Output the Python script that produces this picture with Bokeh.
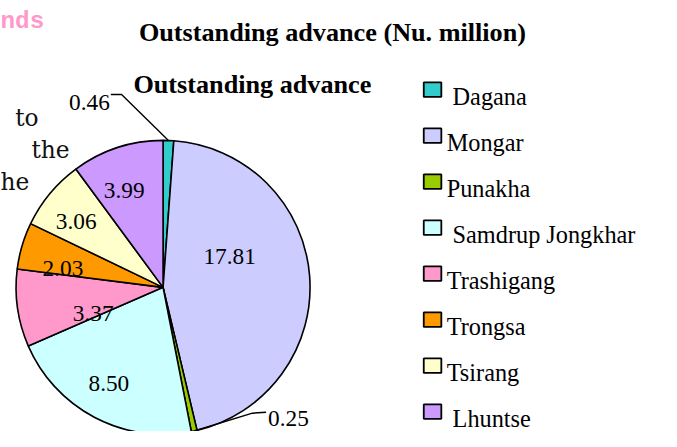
import math
from bokeh.plotting import figure
from bokeh.models import ColumnDataSource, Range1d
from bokeh.core.properties import value
from bokeh.embed import file_html
from bokeh.resources import INLINE

# ---------------- data ----------------
districts = ["Dagana", "Mongar", "Punakha", "Samdrup Jongkhar",
             "Trashigang", "Trongsa", "Tsirang", "Lhuntse"]
advance = [0.46, 17.81, 0.25, 8.50, 3.37, 2.03, 3.06, 3.99]
colors = ["#33CCCC", "#CCCCFF", "#99CC00", "#CCFFFF",
          "#FF99CC", "#FF9900", "#FFFFCC", "#CC99FF"]
title_main = "Outstanding advance (Nu. million)"
title_chart = "Outstanding advance"

# ---------------- layout ----------------
W, H = 661, 431
SX, SY = W / 677.0, H / 447.0
S = (SX + SY) / 2


def px(X):
    return X * SX


def py(Y):
    return H - Y * SY


def fs(n):
    return "%.1fpx" % (n * S)


CX, CY, R = px(166.5), py(297.5), 151.5 * S

# label anchors: (X, baseline Y, align) in reference pixels
label_layout = [
    (112.0, 105.5, "right"),   # Dagana (outside)
    (234.7, 265.0, "center"),  # Mongar
    (274.0, 434.0, "left"),    # Punakha (outside)
    (111.0, 396.7, "center"),  # Samdrup Jongkhar
    (95.0, 325.0, "center"),   # Trashigang
    (64.0, 278.0, "center"),   # Trongsa
    (77.5, 229.0, "center"),   # Tsirang
    (126.7, 196.7, "center"),  # Lhuntse
]
# leader elbows for outside labels
leaders = {0: [(113.0, 97.5), (124.0, 97.5)],
           2: [(272.0, 427.0), (258.0, 428.0)]}
legend_indent = [6, 0, 0, 6, 0, 0, 0, 6]

LABEL_FONT = value("Liberation Serif")

# ---------------- geometry ----------------
total = sum(advance)
starts, ends, mids = [], [], []
cum = 0.0
for v in advance:
    a0 = math.pi / 2 - 2 * math.pi * cum / total
    cum += v
    a1 = math.pi / 2 - 2 * math.pi * cum / total
    starts.append(a0)
    ends.append(a1)
    mids.append((a0 + a1) / 2)

src = ColumnDataSource(dict(start=starts, end=ends, color=colors,
                            name=districts, val=advance))

p = figure(width=W, height=H, x_range=Range1d(0, W), y_range=Range1d(0, H),
           output_backend="svg", toolbar_location=None, min_border=0,
           x_axis_type=None, y_axis_type=None, outline_line_color=None,
           background_fill_color="white", border_fill_color="white")
p.grid.visible = False

# background page fragments
p.text(x=[px(0)], y=[py(21.5)], text=["nds"], text_font=value("Liberation Mono"),
       text_font_style="bold", text_font_size=fs(25), text_color="#FF99CC",
       text_baseline="alphabetic")
p.text(x=[px(15), px(31.7), px(0)], y=[py(121.7), py(155), py(188)],
       text=["to", "the", "he"], text_font=value("DejaVu Serif"),
       text_font_size=fs(24), text_color="#111111", text_baseline="alphabetic")

# titles
p.text(x=[px(340)], y=[py(33)], text=[title_main], text_font=LABEL_FONT,
       text_font_style="bold", text_font_size=fs(27), text_align="center",
       text_baseline="alphabetic", text_color="black")
p.text(x=[px(258)], y=[py(87)], text=[title_chart], text_font=LABEL_FONT,
       text_font_style="bold", text_font_size=fs(27), text_align="center",
       text_baseline="alphabetic", text_color="black")

# pie
p.wedge(x=CX, y=CY, radius=R, start_angle="start", end_angle="end",
        direction="clock", fill_color="color", line_color="black",
        line_width=1.6, source=src)

# leader lines
lx, ly = [], []
for i, pts in leaders.items():
    xs = [px(a) for a, b in pts] + [CX + R * math.cos(mids[i])]
    ys = [py(b) for a, b in pts] + [CY + R * math.sin(mids[i])]
    lx.append(xs)
    ly.append(ys)
p.multi_line(xs=lx, ys=ly, line_color="black", line_width=1.4)

# value labels
for i, v in enumerate(advance):
    X, Y, al = label_layout[i]
    p.text(x=[px(X)], y=[py(Y)], text=["%.2f" % v], text_font=LABEL_FONT,
           text_font_size=fs(24), text_align=al, text_baseline="alphabetic",
           text_color="black")

# legend
row0, step = 100.0, 47.7
for i, name in enumerate(districts):
    base = row0 + step * i
    p.rect(x=[px(442.5)], y=[py(base - 7.5)], width=18 * SX, height=15 * SY,
           fill_color=colors[i], line_color="black", line_width=1.8)
    p.text(x=[px(457 + legend_indent[i])], y=[py(base)], text=[name],
           text_font=LABEL_FONT, text_font_size=fs(25),
           text_baseline="alphabetic", text_color="black")

open("out.html", "w").write(file_html(p, INLINE))
